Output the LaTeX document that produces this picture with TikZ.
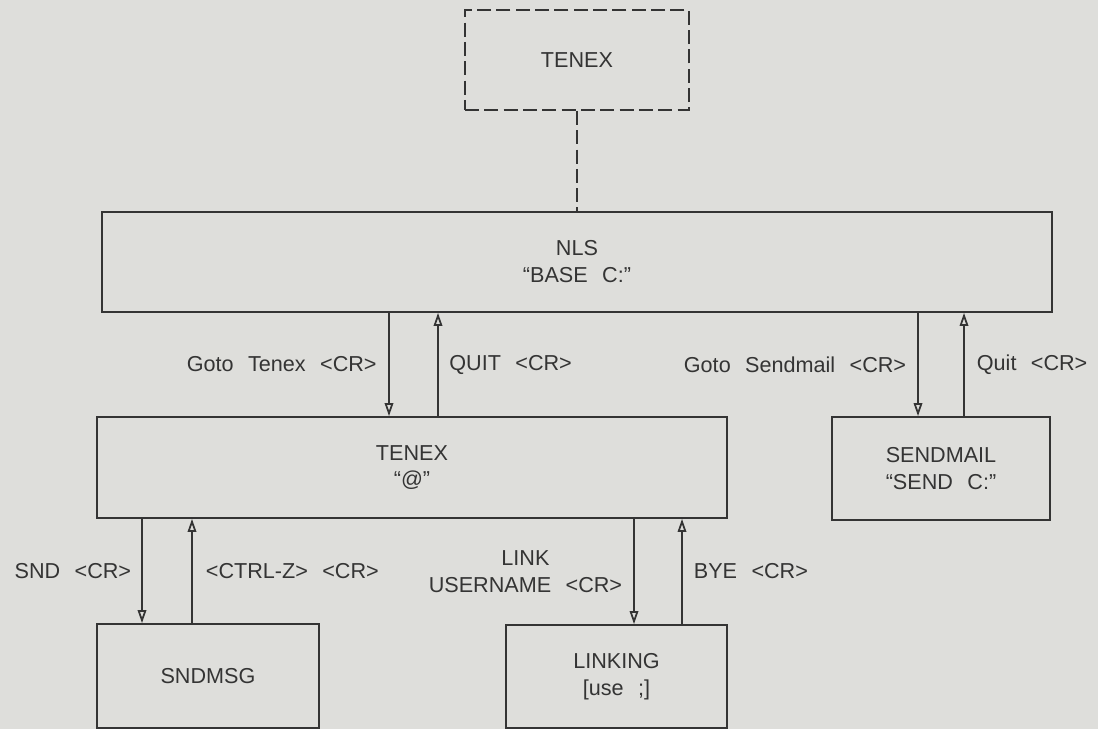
\documentclass[tikz,border=0pt]{standalone}
\usepackage{fontspec}
\setmainfont{Liberation Sans}[WordSpace=2.4]
\usetikzlibrary{arrows.meta,positioning}
\definecolor{paper}{RGB}{222,222,219}
\definecolor{ink}{RGB}{52,52,52}
\tikzset{
modebox/.style={draw=ink, line width=1pt, align=center, inner sep=0pt, text=ink, font=\fontsize{12.3}{15.3}\selectfont},
hostbox/.style={modebox, dash pattern=on 8pt off 3pt},
cmdarrow/.style={-{Triangle[open, length=2.6mm, width=1.7mm]}, draw=ink, line width=1pt},
cmdlabel/.style={inner sep=0pt, text=ink, align=center, font=\fontsize{12.3}{15.3}\selectfont}
}
\begin{document}
\begin{tikzpicture}[x=0.02cm,y=-0.02cm]
\useasboundingbox (0,0) rectangle (1098,729);
\fill[paper] (0,0) rectangle (1098,729);

% boxes
\node[hostbox, minimum width=4.48cm, minimum height=2cm] (host) at (577,60) {TENEX};
\node[modebox, minimum width=19cm, minimum height=2cm] (nls) at (577,262) {NLS\\``BASE C:''};
\node[modebox, minimum width=12.6cm, minimum height=2.02cm] (tenex) at (412,467.5) {TENEX\\``@''};
\node[modebox, minimum width=4.36cm, minimum height=2.06cm] (sendmail) at (941,468.5) {SENDMAIL\\``SEND C:''};
\node[modebox, minimum width=4.44cm, minimum height=2.08cm] (sndmsg) at (208,676) {SNDMSG};
\node[modebox, minimum width=4.42cm, minimum height=2.06cm] (linking) at (616.5,676.5) {LINKING\\{[use ;]}};

\draw[ink, line width=1pt, dash pattern=on 8pt off 3pt] (host.south) -- (nls.north);

% columns of the connectors
\coordinate (cA) at (389,0);
\coordinate (cB) at (438,0);
\coordinate (cC) at (918,0);
\coordinate (cD) at (964,0);
\coordinate (cE) at (142,0);
\coordinate (cF) at (192,0);
\coordinate (cG) at (634,0);
\coordinate (cH) at (682,0);

\draw[cmdarrow] (nls.south -| cA) -- (tenex.north -| cA)
  node[cmdlabel, midway, left=2.3mm] (gototenex) {Goto Tenex <CR>};
\draw[cmdarrow] (tenex.north -| cB) -- (nls.south -| cB)
  node[cmdlabel, midway, right=2.1mm] (quitnls) {QUIT <CR>};
\draw[cmdarrow] (nls.south -| cC) -- (sendmail.north -| cC)
  node[cmdlabel, midway, left=2.2mm] (gotosend) {Goto Sendmail <CR>};
\draw[cmdarrow] (sendmail.north -| cD) -- (nls.south -| cD)
  node[cmdlabel, midway, right=2.4mm] (quitsend) {Quit <CR>};
\draw[cmdarrow] (tenex.south -| cE) -- (sndmsg.north -| cE)
  node[cmdlabel, midway, left=2mm] (snd) {SND <CR>};
\draw[cmdarrow] (sndmsg.north -| cF) -- (tenex.south -| cF)
  node[cmdlabel, midway, right=2.6mm] (ctrlz) {<CTRL-Z> <CR>};
\draw[cmdarrow] (tenex.south -| cG) -- (linking.north -| cG)
  node[cmdlabel, midway, left=2.2mm] (link) {LINK\\USERNAME <CR>};
\draw[cmdarrow] (linking.north -| cH) -- (tenex.south -| cH)
  node[cmdlabel, midway, right=2.2mm] (bye) {BYE <CR>};
\end{tikzpicture}
\end{document}
